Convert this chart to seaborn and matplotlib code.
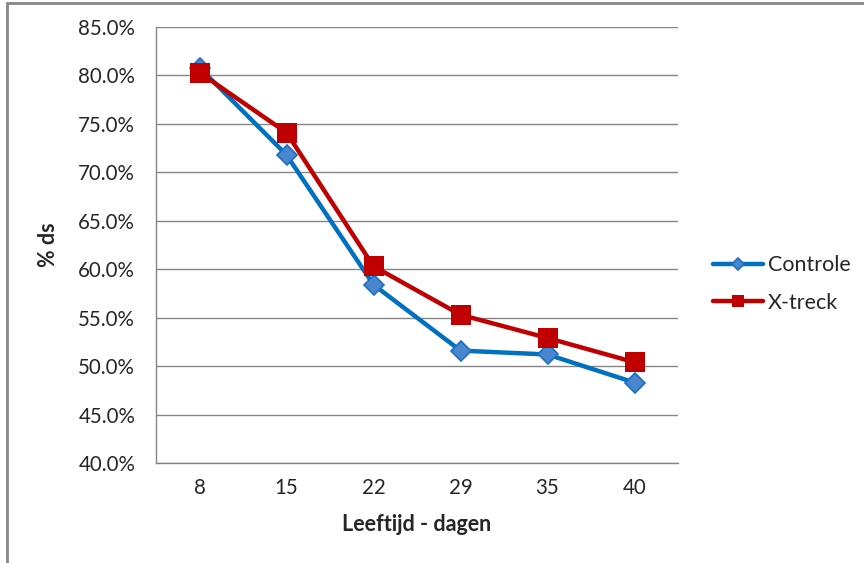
import matplotlib.pyplot as plt
import matplotlib.ticker as mticker
import pandas as pd
import seaborn as sns
from matplotlib.patches import Rectangle

days = ["8", "15", "22", "29", "35", "40"]
controle = [0.808, 0.718, 0.584, 0.516, 0.512, 0.483]
xtreck = [0.803, 0.741, 0.603, 0.553, 0.529, 0.504]

df = pd.DataFrame({"dag": days, "Controle": controle, "X-treck": xtreck})

sns.set_style("white")
plt.rcParams["font.family"] = ["Lato", "DejaVu Sans"]

fig = plt.figure(figsize=(8.64, 5.63), dpi=100)
ax = fig.add_axes([156 / 864, 1 - 463 / 563, 522 / 864, 436 / 563])

grey = "#868686"

sns.lineplot(data=df, x="dag", y="Controle", ax=ax, color="#0070C0", lw=3.2,
             marker="D", markersize=10, markerfacecolor="#4A86D0",
             markeredgecolor="#1C70C0", markeredgewidth=1.2, label="Controle")
sns.lineplot(data=df, x="dag", y="X-treck", ax=ax, color="#C00000", lw=3.2,
             marker="s", markersize=14, markerfacecolor="#C00000",
             markeredgecolor="#C00000", markeredgewidth=0, label="X-treck")

ax.set_xlim(-0.5, 5.5)
ax.set_ylim(0.40, 0.85)
ax.yaxis.set_major_locator(mticker.MultipleLocator(0.05))
ax.yaxis.set_major_formatter(mticker.FuncFormatter(lambda v, p: "{:.1%}".format(v)))
ax.yaxis.grid(True, color=grey, lw=1)
ax.set_axisbelow(True)

# category ticks between the labels, like a spreadsheet chart
ax.xaxis.set_major_locator(mticker.FixedLocator([i - 0.5 for i in range(7)]))
ax.xaxis.set_major_formatter(mticker.NullFormatter())
ax.xaxis.set_minor_locator(mticker.FixedLocator(range(6)))
ax.xaxis.set_minor_formatter(mticker.FixedFormatter(days))
ax.tick_params(axis="x", which="major", length=5, width=1, color=grey, direction="out")
ax.tick_params(axis="x", which="minor", length=0, pad=11, labelsize=14.8, labelcolor="#262626")
ax.tick_params(axis="y", length=4, width=1, color=grey, direction="out", pad=11,
               labelsize=14.8, labelcolor="#262626")

for s in ["top", "right"]:
    ax.spines[s].set_visible(False)
for s in ["left", "bottom"]:
    ax.spines[s].set_color(grey)
    ax.spines[s].set_linewidth(1)

ax.set_xlabel("Leeftijd - dagen", fontsize=15.5, fontweight="bold", labelpad=11)
ax.set_ylabel("% ds", fontsize=15.5, fontweight="bold", labelpad=14)

ax.legend(loc="center left", bbox_to_anchor=(713 / 864, 1 - 284 / 563),
          bbox_transform=fig.transFigure, frameon=False, fontsize=15.5,
          handlelength=2.3, labelspacing=0.8, handletextpad=0.25,
          borderpad=0, borderaxespad=0, markerscale=0.65)

fig.patches.append(Rectangle((7 / 864, -0.1), 1, 1.1 - 3 / 563, transform=fig.transFigure,
                             fill=False, edgecolor=grey, lw=2))

fig.savefig("out.png", dpi=100)
